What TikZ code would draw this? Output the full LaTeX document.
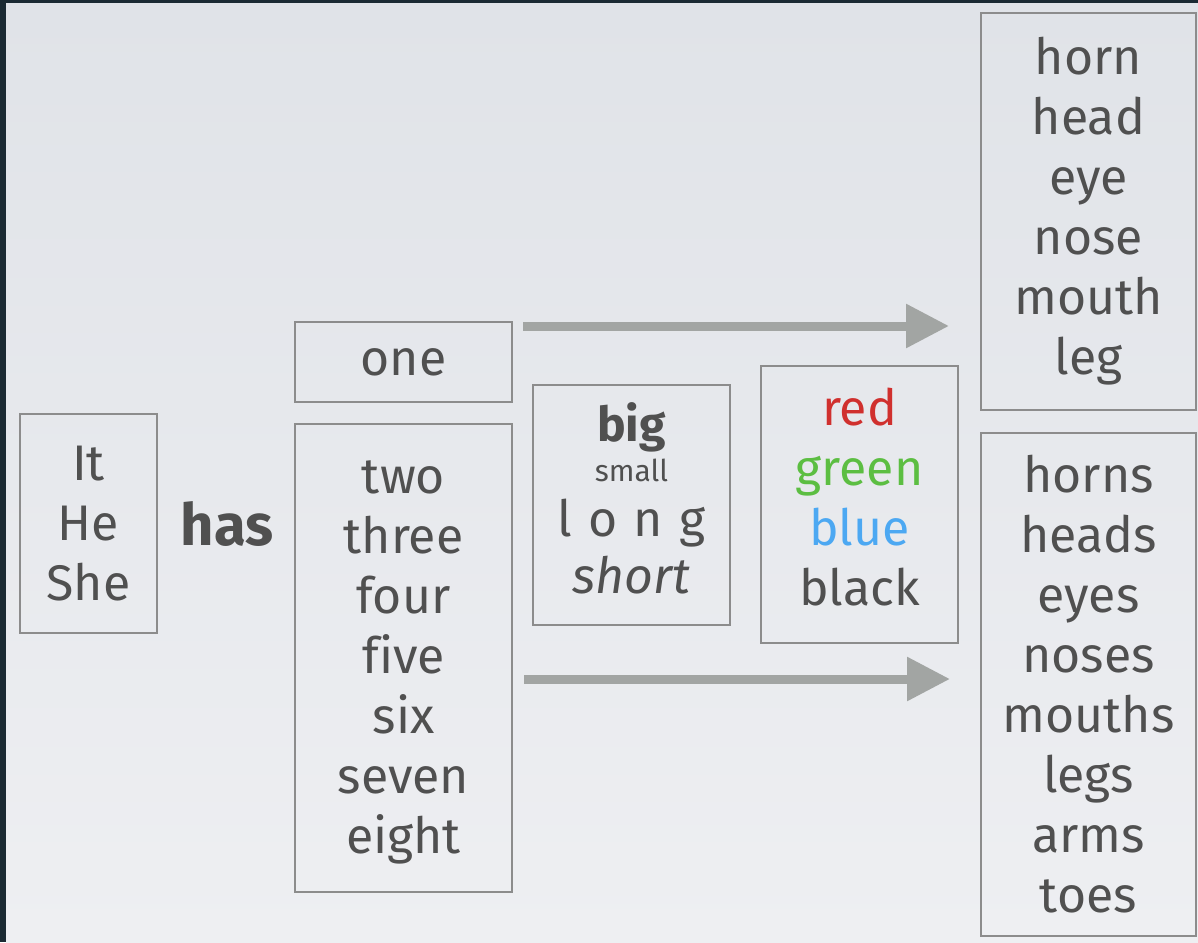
\documentclass[tikz,border=0pt]{standalone}
\usepackage{fontspec}
\setmainfont{Fira Sans}[Ligatures=CommonOff]
\usepackage{tikz}
\usetikzlibrary{arrows.meta,positioning}
\definecolor{wordgray}{HTML}{505050}
\definecolor{framegray}{HTML}{8C8C8C}
\definecolor{arrowgray}{HTML}{A2A5A3}
\definecolor{slidedark}{HTML}{1B2A33}
\definecolor{bgtop}{HTML}{E0E3E8}
\definecolor{bgbot}{HTML}{EEEFF2}
\definecolor{wordred}{HTML}{D0302E}
\definecolor{wordgreen}{HTML}{5CBE42}
\definecolor{wordblue}{HTML}{4CA8F2}
\tikzset{
wordbox/.style={draw=framegray,line width=2pt,inner sep=0pt,align=center,text=wordgray,font=\fontsize{50}{60}\selectfont},
verbword/.style={inner sep=0pt,text=wordgray,font=\bfseries\fontsize{58}{60}\selectfont},
bigarrow/.style={-{Triangle[length=43pt,width=42pt]},line width=9pt,draw=arrowgray}
}

\begin{document}
\begin{tikzpicture}[x=1pt,y=-1pt]
\fill[slidedark](0,0)rectangle(1198,942);
\shade[top color=bgtop,bottom color=bgbot](6,4)rectangle(1198,942);
\useasboundingbox(0,0)rectangle(1198,942);
\node[wordbox,minimum width=137pt,minimum height=219pt] (pron) at (88.5,523.5) {It\\He\\She};
\node[verbword] (has) at (227,524) {has};
\node[wordbox,minimum width=217pt,minimum height=80pt] (one) at (403.5,362) {one};
\node[wordbox,minimum width=217pt,minimum height=468pt,text depth=2pt] (nums) at (403.5,658) {two\\three\\four\\five\\six\\seven\\eight};
\node[wordbox,minimum width=197pt,minimum height=240pt,text depth=14pt] (adj) at (631.5,505)
  {{\bfseries\fontsize{48}{50}\selectfont big}\\[-20pt]{\fontsize{30}{34}\selectfont small}\\[-5pt]
   l\hspace{16pt}o\hspace{16pt}n\hspace{16pt}g\\[-3pt]{\itshape short}};
\node[wordbox,minimum width=197pt,minimum height=277pt,text depth=16pt] (col) at (859.5,504.5)
  {\textcolor{wordred}{red}\\\textcolor{wordgreen}{green}\\\textcolor{wordblue}{blue}\\black};
\node[wordbox,minimum width=215pt,minimum height=397pt] (sing) at (1088.5,211.5) {horn\\head\\eye\\nose\\mouth\\leg};
\node[wordbox,minimum width=215pt,minimum height=503pt] (plur) at (1088.5,684.5) {horns\\heads\\eyes\\noses\\mouths\\legs\\arms\\toes};
% one -> singular, the rest -> plural
\coordinate (upstart) at ([shift={(10pt,-5pt)}]one.north east);
\coordinate (lowstart) at ([shift={(11pt,-21pt)}]nums.east);
\draw[bigarrow](upstart)--([xshift=-31pt]sing.west|-upstart);
\draw[bigarrow](lowstart)--([xshift=-30pt]plur.west|-lowstart);
\end{tikzpicture}
\end{document}
